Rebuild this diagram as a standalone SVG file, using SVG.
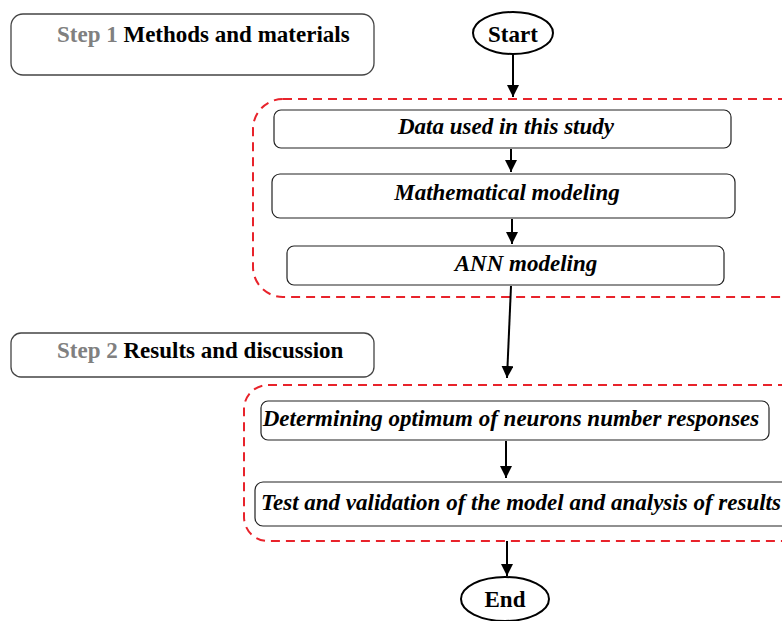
<svg xmlns="http://www.w3.org/2000/svg" width="782" height="621" viewBox="0 0 782 621">
<style>
.box{fill:#fff;stroke:#222;stroke-width:1.2}
.step{fill:#fff;stroke:#444;stroke-width:1.3}
.grp{fill:none;stroke:#e8232b;stroke-width:2;stroke-dasharray:9,6}
.t{font-family:'Liberation Serif','DejaVu Serif',serif;font-weight:bold;font-style:italic;font-size:23px;fill:#000;text-anchor:middle}
.s{font-family:'Liberation Serif','DejaVu Serif',serif;font-weight:bold;font-size:23px;fill:#000}
.g{fill:#808080}
.term{fill:#fff;stroke:#000;stroke-width:2}
.tt{font-family:'Liberation Serif','DejaVu Serif',serif;font-weight:bold;font-size:23px;fill:#000;text-anchor:middle}
.c{stroke:#000;stroke-width:2;fill:none;marker-end:url(#ah)}
</style>
<defs>
<marker id="ah" viewBox="0 0 10 10" refX="10" refY="5" markerWidth="6" markerHeight="6" markerUnits="strokeWidth" orient="auto">
<path d="M0,0 L10,5 L0,10 z" fill="#000"/>
</marker>
</defs>
<g id="groups">
<rect class="grp" x="253" y="99" width="560" height="198" rx="30"/>
<rect class="grp" x="244" y="385" width="570" height="156" rx="24"/>
</g>
<g id="step1"><rect class="step" x="11" y="14" width="363" height="61" rx="12"/><text class="s" x="57" y="42"><tspan class="g">Step 1 </tspan>Methods and materials</text></g>
<g id="step2"><rect class="step" x="11" y="333" width="363" height="44" rx="10"/><text class="s" x="57" y="358"><tspan class="g">Step 2 </tspan>Results and discussion</text></g>
<g id="start"><ellipse class="term" cx="513" cy="33" rx="40" ry="21"/><text class="tt" x="513" y="42">Start</text></g>
<g id="data"><rect class="box" x="274" y="110" width="457" height="38" rx="7"/><text class="t" x="506" y="134">Data used in this study</text></g>
<g id="math"><rect class="box" x="272" y="174" width="463" height="44" rx="8"/><text class="t" x="507" y="200">Mathematical modeling</text></g>
<g id="ann"><rect class="box" x="287" y="246" width="437" height="39" rx="7"/><text class="t" x="526" y="271">ANN modeling</text></g>
<g id="determine"><rect class="box" x="261" y="401" width="508" height="39" rx="7"/><text class="t" x="511" y="426">Determining optimum of neurons number responses</text></g>
<g id="test"><rect class="box" x="255" y="482" width="535" height="44" rx="8"/><text class="t" x="521" y="510">Test and validation of the model and analysis of results</text></g>
<g id="end"><ellipse class="term" cx="505" cy="599" rx="44" ry="22"/><text class="tt" x="505" y="607">End</text></g>
<g id="connectors">
<line class="c" x1="513" y1="55" x2="513" y2="97"/>
<line class="c" x1="511" y1="149" x2="511" y2="172"/>
<line class="c" x1="512" y1="219" x2="512" y2="244"/>
<line class="c" x1="511" y1="286" x2="507" y2="378"/>
<line class="c" x1="506" y1="441" x2="506" y2="478"/>
<line class="c" x1="507" y1="541" x2="507" y2="576"/>
</g>
</svg>
